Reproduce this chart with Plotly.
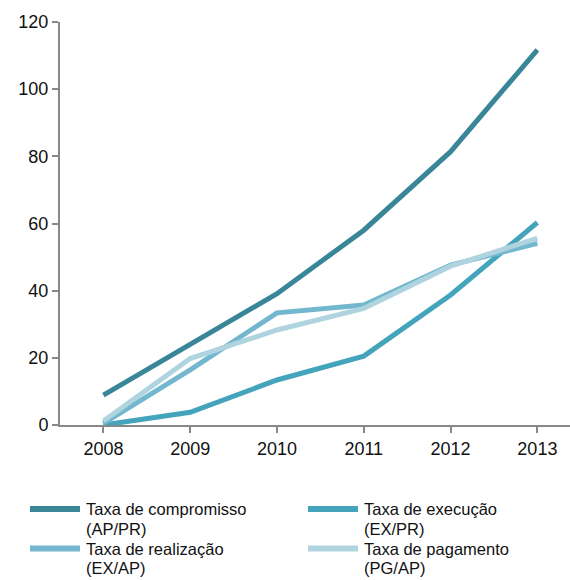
import plotly.graph_objects as go

# Anos e taxas (%)
anos = ["2008", "2009", "2010", "2011", "2012", "2013"]
compromisso = [8.9, 23.8, 39.1, 58.0, 81.4, 111.7]
execucao = [0.0, 3.8, 13.4, 20.5, 38.7, 60.3]
realizacao = [0.5, 16.4, 33.4, 35.7, 47.6, 54.1]
pagamento = [1.2, 19.8, 28.3, 34.7, 47.3, 55.6]

nomes = [
    ("Taxa de compromisso", "(AP/PR)"),
    ("Taxa de execução", "(EX/PR)"),
    ("Taxa de realização", "(EX/AP)"),
    ("Taxa de pagamento", "(PG/AP)"),
]
series = [compromisso, execucao, realizacao, pagamento]
cores = ["#3A8699", "#43A4BC", "#73B7CE", "#B0D4DF"]

FONT = "Liberation Sans, Arial, sans-serif"
L, B, T, W, H = 60, 155, 22, 510, 403

fig = go.Figure()
for (n1, n2), vals, cor in zip(nomes, series, cores):
    fig.add_trace(go.Scatter(
        x=list(range(len(anos))), y=vals, mode="lines",
        name=f"{n1} {n2}",
        line=dict(color=cor, width=5),
        showlegend=False, hoverinfo="skip",
    ))

# Legenda em duas colunas
shapes, annots = [], []
pos = [(30, 509), (308, 509), (30, 548.5), (308, 548.5)]
for (n1, n2), cor, (px, py) in zip(nomes, cores, pos):
    yp = (H + T - py) / H
    shapes.append(dict(type="line", xref="paper", yref="paper",
                       x0=(px - L) / W, x1=(px + 50 - L) / W, y0=yp, y1=yp,
                       line=dict(color=cor, width=6)))
    for k, txt in enumerate((n1, n2)):
        annots.append(dict(xref="paper", yref="paper", x=(px + 55 - L) / W,
                           y=(H + T - py - 19.5 * k) / H, text=txt,
                           showarrow=False, xanchor="left", yanchor="middle",
                           borderpad=0,
                           font=dict(family=FONT, size=16.5, color="#111111")))

fig.update_layout(
    width=570, height=580,
    margin=dict(l=L, r=0, t=T, b=B),
    paper_bgcolor="white", plot_bgcolor="white",
    font=dict(family=FONT, size=18, color="#111111"),
    shapes=shapes, annotations=annots,
    xaxis=dict(
        range=[-0.5, 5.376], tickmode="array",
        tickvals=list(range(len(anos))), ticktext=anos,
        tickson="boundaries", ticks="outside", ticklen=6,
        tickcolor="#888888", tickwidth=1.5,
        showline=True, linecolor="#888888", linewidth=2,
        showgrid=False, zeroline=False, fixedrange=True,
    ),
    yaxis=dict(
        range=[0, 120], tickmode="array", tickvals=[0, 20, 40, 60, 80, 100, 120],
        ticks="outside", ticklen=6, tickcolor="#888888", tickwidth=1.5,
        showline=True, linecolor="#888888", linewidth=2,
        showgrid=False, zeroline=False, fixedrange=True,
    ),
)

fig.write_html("out.html")
